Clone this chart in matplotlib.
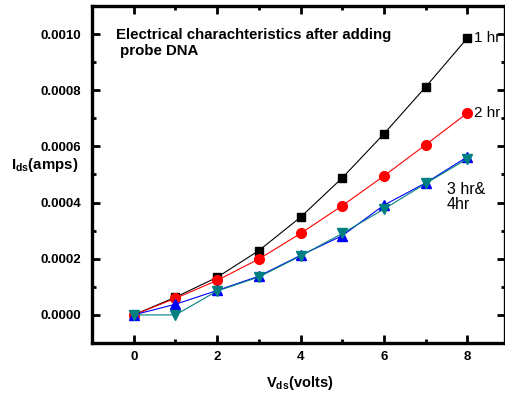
import matplotlib
matplotlib.use('Agg')
import matplotlib.pyplot as plt
from matplotlib.ticker import MultipleLocator, FormatStrFormatter

plt.rcParams['font.family'] = ['Liberation Sans', 'DejaVu Sans']
plt.rcParams['mathtext.fontset'] = 'custom'
plt.rcParams['mathtext.rm'] = 'Liberation Sans:bold'
plt.rcParams['mathtext.bf'] = 'Liberation Sans:bold'

vds = [0, 1, 2, 3, 4, 5, 6, 7, 8]
ids_1hr = [0.0, 0.000063, 0.000134, 0.000229, 0.000348, 0.000488, 0.000645, 0.000812, 0.000986]
ids_2hr = [0.0, 0.000059, 0.000123, 0.000199, 0.000290, 0.000389, 0.000495, 0.000606, 0.000719]
ids_3hr = [0.0, 0.000038, 0.000087, 0.000138, 0.000212, 0.000282, 0.000391, 0.000470, 0.000563]
ids_4hr = [0.0, 0.0, 0.000085, 0.000135, 0.000210, 0.000290, 0.000377, 0.000468, 0.000556]

fig = plt.figure(figsize=(5.06, 3.97), dpi=100)
ax = fig.add_axes([0.1818, 0.136, 0.8162, 0.849])

ax.plot(vds, ids_1hr, color='black', marker='s', ms=6, lw=0.8)
ax.plot(vds, ids_2hr, color='red', marker='o', ms=7, lw=0.8)
ax.plot(vds, ids_3hr, color='blue', marker='^', ms=7, lw=0.8)
ax.plot(vds, ids_4hr, color='#008080', marker='v', ms=7, lw=0.8)

ax.set_xlim(-1, 8.9)
ax.set_ylim(-0.0001, 0.0011)
ax.xaxis.set_major_locator(MultipleLocator(2))
ax.xaxis.set_minor_locator(MultipleLocator(1))
ax.yaxis.set_major_locator(MultipleLocator(0.0002))
ax.yaxis.set_minor_locator(MultipleLocator(0.0001))
ax.yaxis.set_major_formatter(FormatStrFormatter('%.4f'))

for s in ax.spines.values():
    s.set_linewidth(2.4)
ax.tick_params(which='both', direction='in', top=True, right=True, width=2)
ax.tick_params(which='major', length=6, labelsize=9.5)
ax.tick_params(axis='y', which='major', pad=8)
ax.tick_params(axis='x', which='major', pad=6)
ax.tick_params(which='minor', length=3)
for lab in ax.get_xticklabels() + ax.get_yticklabels():
    lab.set_fontweight('bold')

ax.text(0.058, 0.935, 'Electrical charachteristics after adding\n probe DNA',
        transform=ax.transAxes, fontsize=10.8, fontweight='bold', va='top',
        linespacing=1.2)
ax.text(8.15, ids_1hr[-1], '1 hr', fontsize=11, va='center')
ax.text(8.15, ids_2hr[-1], '2 hr', fontsize=11, va='center')
ax.text(7.5, 0.000475, '3 hr&\n4hr', fontsize=11.5, va='top', linespacing=1.05)

fig.text(0.088, 0.585, r'$\mathrm{I_{ds}}$(amps)', fontsize=10.8, fontweight='bold',
         ha='center', va='center')
fig.text(0.593, 0.036, r'$\mathrm{V_{ds}}$(volts)', fontsize=10.5, fontweight='bold',
         ha='center', va='center')

fig.savefig('out.png', dpi=100)
